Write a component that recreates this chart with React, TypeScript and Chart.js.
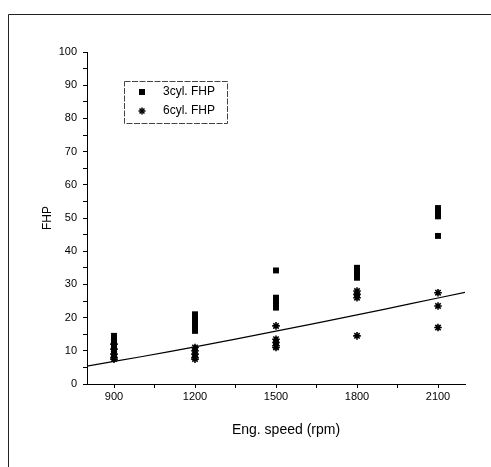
import React, { useEffect, useRef } from "react";
import { Chart, registerables } from "chart.js";

Chart.register(...registerables);

// Engine speed tick labels (rpm)
const speedTicks = [900, 1200, 1500, 1800, 2100];
const speedMinorTicks = [1050, 1350, 1650, 1950];
const fhpTicks = [0, 10, 20, 30, 40, 50, 60, 70, 80, 90, 100];

// 3 cylinder FHP measurements
const cyl3Speed = [900, 900, 900, 900, 900, 900, 1200, 1200, 1200, 1200, 1200, 1200, 1500, 1500, 1500, 1500, 1500, 1800, 1800, 1800, 1800, 2100, 2100, 2100, 2100, 2100];
const cyl3FHP = [14.5, 13.5, 13, 12, 11, 10, 21, 20, 19, 18, 17, 16, 34.2, 26, 25, 24, 23, 35, 34, 33, 32, 53, 52, 51, 50.5, 44.6];

// 6 cylinder FHP measurements
const cyl6Speed = [900, 900, 900, 900, 900, 1200, 1200, 1200, 1200, 1200, 1500, 1500, 1500, 1500, 1500, 1800, 1800, 1800, 1800, 2100, 2100, 2100];
const cyl6FHP = [12, 10.5, 9, 8, 7.5, 11, 10, 9, 8, 7.5, 17.5, 13.5, 12.5, 11.5, 11, 28, 27, 26, 14.5, 27.5, 23.5, 17];

// Fitted curve
const fitSpeed = [800, 1000, 1200, 1500, 1800, 2000, 2200];
const fitFHP = [5.4, 8.2, 11.2, 15.9, 20.8, 24.2, 27.6];

const legendLabels = ["3cyl. FHP", "6cyl. FHP"];
const xTitle = "Eng. speed (rpm)";
const yTitle = "FHP";

const FONT = "'Liberation Sans', Arial, sans-serif";

const framePlugin = {
  id: "frameAndLegend",
  afterDraw(chart: any) {
    const ctx = chart.ctx;
    ctx.save();
    // outer frame
    ctx.strokeStyle = "#222";
    ctx.lineWidth = 1;
    ctx.beginPath();
    ctx.moveTo(8.5, 467);
    ctx.lineTo(8.5, 14.5);
    ctx.lineTo(491, 14.5);
    ctx.stroke();

    // legend box
    const bx = 124.5, by = 81.5, bw = 103, bh = 42;
    ctx.strokeStyle = "#444";
    ctx.setLineDash([6, 1.5]);
    ctx.strokeRect(bx, by, bw, bh);
    ctx.setLineDash([]);
    const rows = [92, 111];
    ctx.fillStyle = "#000";
    ctx.strokeStyle = "#000";
    ctx.fillRect(142 - 3, rows[0] - 3, 6, 6);
    ctx.lineWidth = 1.5;
    const r = 3.5;
    for (let i = 0; i < 4; i++) {
      const a = (i * Math.PI) / 4;
      ctx.beginPath();
      ctx.moveTo(142 - r * Math.cos(a), rows[1] - r * Math.sin(a));
      ctx.lineTo(142 + r * Math.cos(a), rows[1] + r * Math.sin(a));
      ctx.stroke();
    }
    ctx.font = "12px " + FONT;
    ctx.textBaseline = "middle";
    ctx.textAlign = "left";
    ctx.fillText(legendLabels[0], 163, rows[0]);
    ctx.fillText(legendLabels[1], 163, rows[1]);

    // x axis title
    ctx.font = "14px " + FONT;
    ctx.textAlign = "center";
    ctx.fillText(xTitle, 286, 430);
    ctx.restore();
  },
};

export default function App() {
  const ref = useRef<HTMLCanvasElement>(null);

  useEffect(() => {
    if (!ref.current) return;
    const chart = new Chart(ref.current, {
      type: "scatter",
      data: {
        datasets: [
          {
            label: legendLabels[0],
            data: cyl3Speed.map((x, i) => ({ x, y: cyl3FHP[i] })),
            pointStyle: "rect",
            pointRadius: 4.2,
            backgroundColor: "#000",
            borderColor: "#000",
            borderWidth: 0,
          },
          {
            label: legendLabels[1],
            data: cyl6Speed.map((x, i) => ({ x, y: cyl6FHP[i] })),
            pointStyle: "star",
            pointRadius: 3.8,
            backgroundColor: "#000",
            borderColor: "#000",
            borderWidth: 1.6,
          },
          {
            type: "line",
            label: "fit",
            data: fitSpeed.map((x, i) => ({ x, y: fitFHP[i] })),
            borderColor: "#000",
            borderWidth: 1.2,
            pointRadius: 0,
            tension: 0.3,
            fill: false,
          } as any,
        ],
      },
      options: {
        responsive: false,
        animation: false,
        layout: { padding: { left: 0, top: 52, right: 26, bottom: 0 } },
        plugins: {
          legend: { display: false },
          tooltip: { enabled: false },
        },
        scales: {
          x: {
            type: "linear",
            min: 800,
            max: 2200,
            afterFit: (s: any) => {
              s.height = 83;
            },
            afterBuildTicks: (s: any) => {
              s.ticks = [...speedTicks, ...speedMinorTicks]
                .sort((a, b) => a - b)
                .map((v) => ({ value: v }));
            },
            grid: {
              drawOnChartArea: false,
              drawTicks: true,
              tickLength: 4,
              tickColor: "#000",
            },
            border: { display: true, color: "#000", width: 1 },
            ticks: {
              color: "#000",
              font: { size: 11, family: FONT },
              padding: 2,
              maxRotation: 0,
              autoSkip: false,
              callback: (v: any) => (speedTicks.includes(Number(v)) ? String(v) : ""),
            },
            title: { display: false },
          },
          y: {
            type: "linear",
            min: 0,
            max: 100,
            afterFit: (s: any) => {
              s.width = 87;
            },
            afterBuildTicks: (s: any) => {
              const t: any[] = [];
              for (let i = 0; i < fhpTicks.length; i++) {
                t.push({ value: fhpTicks[i] });
                if (i < fhpTicks.length - 1) t.push({ value: fhpTicks[i] + 5 });
              }
              s.ticks = t;
            },
            grid: {
              drawOnChartArea: false,
              drawTicks: true,
              tickLength: 4,
              tickColor: "#000",
            },
            border: { display: true, color: "#000", width: 1 },
            ticks: {
              color: "#000",
              font: { size: 11, family: FONT },
              padding: 6,
              autoSkip: false,
              callback: (v: any) => (fhpTicks.includes(Number(v)) ? String(v) : ""),
            },
            title: {
              display: true,
              text: yTitle,
              color: "#000",
              font: { size: 12, family: FONT },
              padding: { top: 40, bottom: 0 },
            },
          },
        },
      },
      plugins: [framePlugin],
    });
    return () => chart.destroy();
  }, []);

  return (
    <div style={{ position: "absolute", left: 0, top: 0, width: 491, height: 467, background: "#fff" }}>
      <canvas ref={ref} width={491} height={467} style={{ width: 491, height: 467, display: "block" }} />
    </div>
  );
}
